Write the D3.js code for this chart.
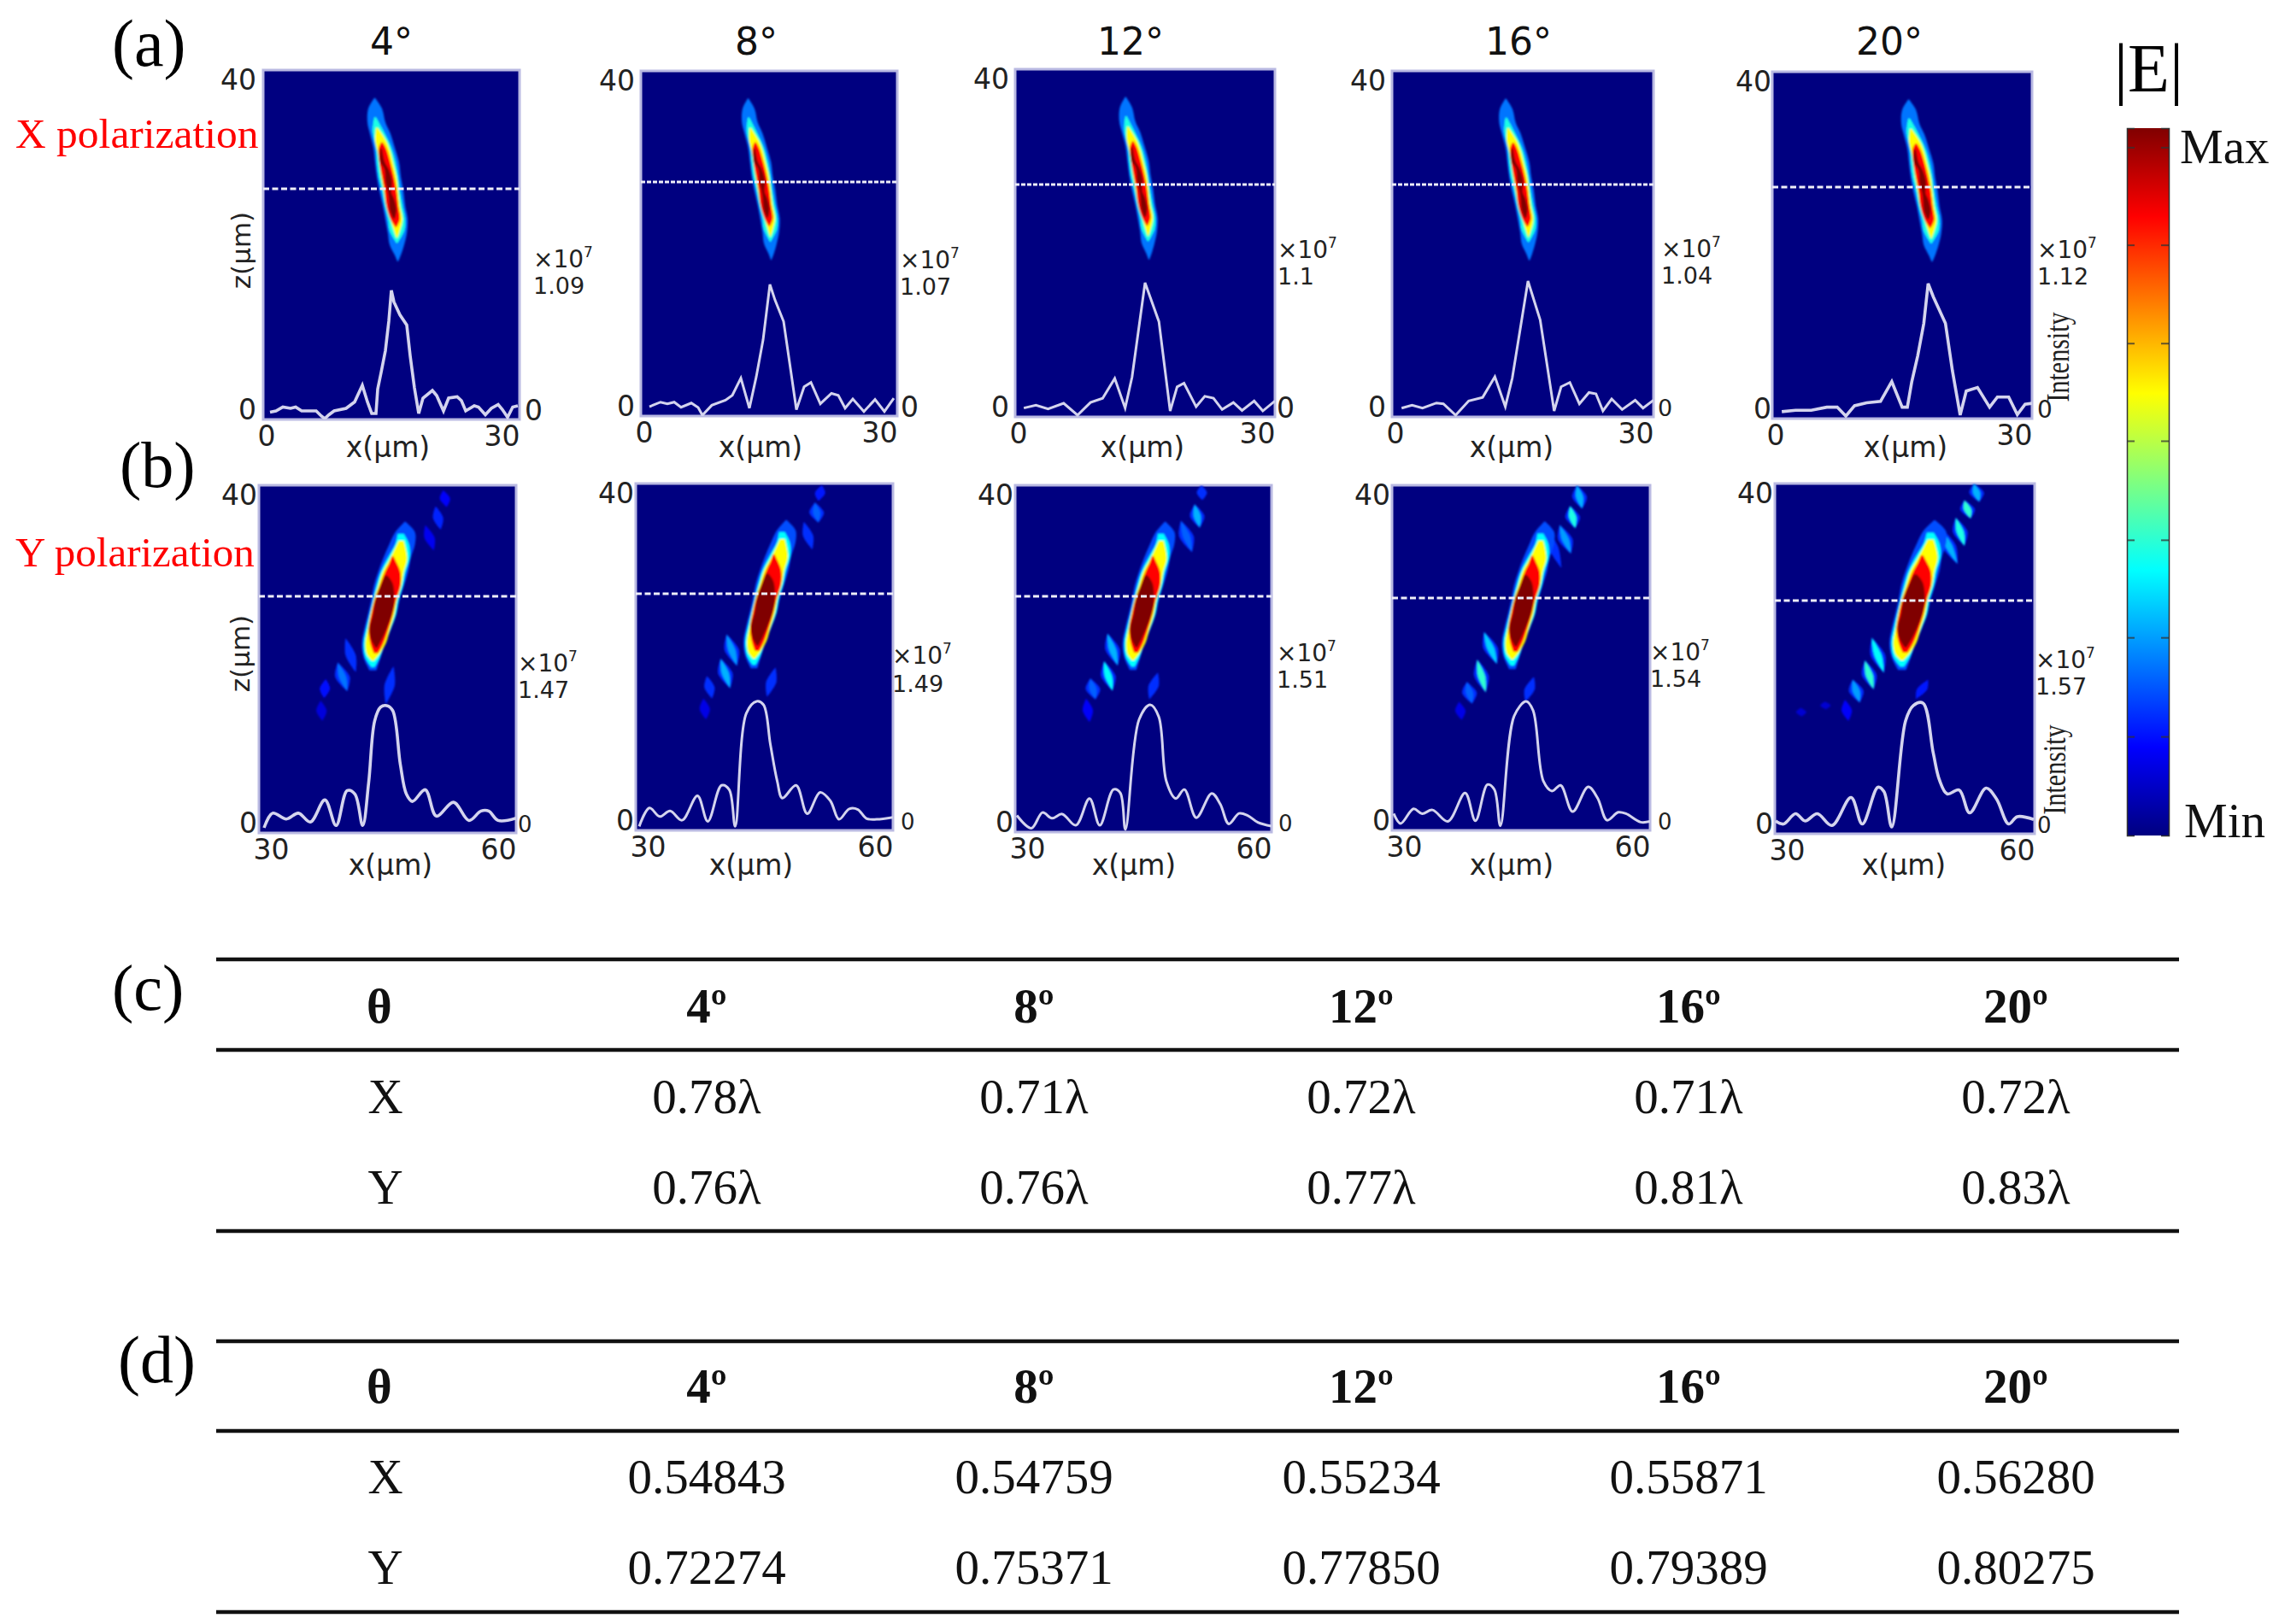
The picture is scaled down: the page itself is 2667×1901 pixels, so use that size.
<!DOCTYPE html>
<html>
<head>
<meta charset="utf-8">
<script src="https://cdn.jsdelivr.net/npm/d3@7"></script>
<style>
  body { margin: 0; background: #fff; }
  svg { display: block; }
  .serif { font-family: "Liberation Serif", serif; }
  .sans { font-family: "DejaVu Sans", sans-serif; }
</style>
</head>
<body>
<div id="chart"></div>
<script>
// angles and peak labels
const angles = ["4°", "8°", "12°", "16°", "20°"];
const peaksX = ["1.09", "1.07", "1.1", "1.04", "1.12"];
const peaksY = ["1.47", "1.49", "1.51", "1.54", "1.57"];

// intensity profiles along the dashed line: [x in um, fraction of peak]
const profileA1 = [[0.8,.05],[1.5,.06],[2.3,.09],[3.2,.08],[3.8,.09],[4.5,.06],[5.3,.06],[6.2,.06],[6.8,.02],[7.2,0],[7.7,.03],[8.3,.06],[9.7,.08],[10.7,.13],[11.6,.26],[12.2,.13],[12.7,.04],[13.2,.04],[13.4,.23],[13.8,.36],[14.3,.53],[14.7,.76],[15,1],[15.3,.91],[16,.81],[16.8,.73],[17.2,.49],[17.7,.24],[18.2,.04],[18.7,.16],[19.8,.22],[20.3,.18],[21.1,.06],[21.7,.16],[22.7,.17],[23.2,.14],[23.7,.06],[24.7,.1],[25.2,.09],[26,.03],[26.7,.08],[27.5,.11],[28,.07],[28.6,.01],[29.2,.09],[29.8,.1]];
const profileA2 = [[1,.065],[2.3,.1],[3.1,.087],[3.9,.1],[4.7,.061],[5.9,.093],[6.7,.059],[7.2,0],[8.3,.076],[9.9,.115],[10.7,.152],[11.7,.283],[12.7,.054],[13.5,.293],[14.3,.576],[15.1,1],[15.7,.88],[16.7,.717],[17.5,.358],[18.2,.043],[19.1,.217],[19.9,.25],[21,.087],[22.3,.167],[23.1,.152],[23.9,.054],[24.8,.124],[26.1,.028],[27.4,.12],[28.5,.028],[29.6,.13]];
const profileA3 = [[1,.054],[2.4,.075],[3.8,.047],[5.6,.09],[7.2,0],[8.7,.096],[10.1,.128],[11.5,.278],[12.7,.054],[13.5,.289],[15,1],[16.6,.707],[17.9,.032],[18.7,.214],[19.5,.242],[20.9,.064],[21.9,.143],[22.9,.128],[23.9,.043],[25.2,.096],[26.2,.036],[27.6,.107],[28.6,.032],[30,.107]];
const profileA4 = [[1.1,.053],[2.3,.074],[3.5,.053],[5.1,.091],[5.9,.085],[7.3,0],[8.8,.106],[10.4,.133],[11.8,.286],[13,.064],[13.8,.277],[15.6,1],[17,.71],[18.6,.032],[19.4,.212],[20.4,.244],[21.5,.085],[22.6,.169],[23.4,.159],[24.2,.032],[25.2,.121],[26.4,.042],[27.9,.112],[28.8,.053],[30,.112]];
const profileA5 = [[1.1,.033],[2.7,.044],[4.5,.044],[6.3,.067],[7.5,.067],[8.5,0],[9.5,.078],[10.9,.1],[12.5,.111],[13.8,.26],[15,.067],[15.6,.067],[16.1,.256],[16.8,.456],[17.5,.7],[18,1],[18.6,.9],[20,.7],[20.8,.344],[21.7,.007],[22.4,.189],[23.7,.216],[25.1,.067],[26,.144],[27.3,.144],[28.3,.011],[29.2,.089],[30,.096]];
const profileB1 = [[.6,0],[1.6,.12],[3.2,.072],[4.6,.12],[6,.048],[7.7,.228],[9,.019],[10.3,.305],[11.2,.276],[12.1,.019],[12.8,.37],[13.5,.875],[14.2,.988],[14.9,1],[15.6,.96],[16.5,.516],[17.2,.276],[17.9,.216],[19.4,.312],[20.7,.096],[22.7,.209],[24.5,.06],[25.9,.137],[26.8,.137],[27.9,.06],[30,.079]];
const profileB2 = [[.4,.011],[1.6,.157],[2.8,.089],[4,.134],[5.4,.06],[7.2,.253],[8.4,.051],[10,.336],[10.9,.302],[11.6,.011],[12.9,.906],[14.1,1],[14.9,.973],[15.7,.66],[16.5,.369],[17.1,.235],[18.7,.336],[20,.112],[21.5,.28],[22.7,.213],[23.7,.067],[24.9,.15],[25.9,.145],[26.9,.074],[28.1,.067],[30,.083]];
const profileB3 = [[.2,.113],[1.9,.011],[3.2,.136],[4.3,.09],[5.5,.124],[7.1,.034],[8.7,.249],[9.9,.034],[11.5,.321],[12.3,.294],[12.9,0],[14.5,.882],[15.8,1],[16.8,.905],[17.7,.385],[18.8,.249],[19.8,.321],[21.2,.095],[23,.29],[24,.204],[25,.045],[26.2,.129],[27.2,.113],[28.4,.057],[30,.027]];
const profileB4 = [[.2,.112],[1,.034],[2.5,.15],[3.5,.112],[4.7,.141],[6.5,.051],[8.5,.275],[9.7,.056],[11.1,.342],[11.9,.302],[12.6,.016],[14.2,.884],[15.6,1],[16.4,.928],[17.6,.369],[18.6,.291],[19.6,.336],[21,.128],[22.8,.324],[23.9,.235],[25,.06],[26.3,.123],[27.2,.112],[28.9,.045],[30,.051]];
const profileB5 = [[.1,.048],[1,.024],[2.4,.107],[3.5,.048],[4.9,.107],[6.6,.012],[8.8,.238],[10.1,.024],[11.9,.321],[12.6,.286],[13.5,0],[15.1,.857],[16,.98],[17.1,1],[18.3,.595],[19,.381],[19.9,.267],[21.3,.298],[22.5,.114],[24.4,.314],[25.6,.226],[27,.024],[28,.083],[29.9,.06]];

// focal spot outlines at jet levels: [z, x left, x right]
const beamXLevels = [.24, .4, .625, .875, 1];
const beamX = [
  [[36.8,13,13.1],[35.6,12.3,13.9],[34,12.2,14.3],[32.7,12.5,14.9],[31.1,12.9,15.4],[29.4,13.1,15.9],[27.8,13.3,16.1],[26.2,13.6,16.4],[24.5,14,16.6],[22.9,14.3,16.9],[21.3,14.6,16.8],[20,14.8,16.5],[18.8,15.4,16.1],[18.1,15.7,15.8]],
  [[34.6,13,13.2],[33,12.8,14.1],[31.1,13.2,15],[29.4,13.3,15.5],[27.8,13.5,15.8],[26.2,13.9,16],[24.5,14.2,16.3],[22.9,14.6,16.6],[21.6,14.8,16.5],[20.2,15.6,15.7]],
  [[33.4,13.2,13.4],[31.9,13.1,14.4],[30.6,13.4,14.9],[29.4,13.6,15.2],[27.8,13.8,15.6],[26.2,14.1,15.8],[24.5,14.4,16],[22.9,14.9,16.3],[21.6,15.3,16],[20.8,15.6,15.7]],
  [[31.7,13.8,14],[31,13.5,14.4],[29.4,13.6,14.9],[27.8,13.9,15.3],[26.2,14.2,15.6],[24.5,14.4,15.8],[22.9,14.9,16],[22,15.5,15.6]],
  [[31,13.7,13.9],[29.5,13.7,14.2],[28.6,14.2,14.7],[27.2,14.3,15.1],[26,14.6,15],[25.3,14.7,15.3],[24,14.8,15.6],[23,15.2,15.4]]
];
const beamYLevels = [.2, .375, .625, .875, 1];
const beamY = [
  [[35.8,17,17.1],[34.6,15.9,18.2],[33.2,15.2,18.2],[31.6,14.5,17.7],[30,13.9,17.4],[28.4,13.4,16.9],[26.8,13.1,16.4],[25.1,12.7,16],[23.5,12.3,15.4],[21.8,12,14.7],[20.2,12.2,14.2],[18.7,12.9,13.7]],
  [[34.4,16.2,16.9],[33.2,15.9,17.5],[31.6,15,17.6],[30,14.2,17.1],[28.4,13.7,16.8],[26.8,13.3,16.3],[25.1,12.9,16],[23.5,12.5,15.4],[21.8,12.2,14.7],[20.2,12.4,14.1],[19.1,13.1,13.5]],
  [[33.6,16.3,16.9],[31.6,15.3,17.3],[30,14.4,16.9],[28.4,13.9,16.6],[26.8,13.4,16.1],[25.1,13,15.8],[23.5,12.7,15.3],[21.8,12.4,14.8],[20.5,12.6,14],[19.8,13.2,13.4]],
  [[31.8,15.5,15.7],[31,15.2,16.1],[30,14.7,16.5],[28.4,14.1,16.5],[26.8,13.5,16],[25.1,13.1,15.6],[23.5,12.8,15.1],[21.8,13,14.5],[20.7,13.4,13.9]],
  [[29.6,14.7,15],[28.7,14.3,15.6],[26.8,13.6,15.8],[25.1,13.3,15.5],[23.5,12.9,14.9],[22.2,13.1,14.3],[21.3,13.6,13.8]]
];

// side lobes in the Y row: [x0, z0, x1, z1, jet level]
const lobesB1 = [[21.5,39.4,21.9,37.5,.12],[20.6,37.6,21.2,34.9,.16],[19.4,35.4,20.4,32.5,.11],[10.1,22.4,11.3,18.5,.2],[9.2,19.6,10.3,16.3,.24],[7.8,17.7,7.6,15.5,.14],[7.2,15.2,7.4,12.9,.09],[15.7,19.2,14.8,14.8,.2]];
const lobesB2 = [[21.7,39.8,21.3,38,.15],[20.9,37.8,21.3,35.5,.22],[19.6,35.6,20.6,32.4,.18],[10.6,22.6,11.8,19,.28],[9.9,19.8,11,16.4,.3],[8.3,17.8,8.9,15.2,.2],[7.9,15.2,8.2,12.8,.1],[16.3,18.8,15.3,15.4,.18]];
const lobesB3 = [[21.8,40,21.9,38.3,.2],[21,37.8,21.6,35.1,.3],[19.4,35.9,20.7,32.3,.22],[10.8,22.9,12,19.2,.3],[10.4,19.7,11.4,16.3,.38],[8.8,17.7,9.4,15.3,.22],[8.3,15.4,8.7,12.7,.12],[16.7,18.4,15.7,15.3,.18]];
const lobesB4 = [[21.5,40,22.1,37.3,.3],[20.7,37.6,21.3,35,.4],[19.5,35.4,20.8,32.1,.28],[17.7,35.4,19.7,30.4,.2],[10.7,23,12.2,19.3,.33],[9.9,19.8,10.9,16,.42],[8.7,17.2,9.3,14.7,.22],[7.8,14.9,8.1,12.8,.1],[16.5,17.8,15.5,14.9,.18]];
const lobesB5 = [[23,40,23.6,37.9,.3],[21.9,38.1,22.6,36,.42],[20.9,36.1,21.9,32.9,.4],[19,35.1,21.1,30.8,.3],[11.2,22.4,12.6,18.4,.38],[10.4,19.8,11.4,16.5,.42],[9,17.6,9.8,15,.28],[8.1,15.3,8.5,12.9,.12],[17.7,17.6,16.3,15.4,.15],[3,14.4,3.1,13.4,.08],[5.8,15.1,5.9,14.2,.08]];

// tables
const tableHead = ["θ", "4º", "8º", "12º", "16º", "20º"];
const fwhmX = ["X", "0.78λ", "0.71λ", "0.72λ", "0.71λ", "0.72λ"];
const fwhmY = ["Y", "0.76λ", "0.76λ", "0.77λ", "0.81λ", "0.83λ"];
const effX = ["X", "0.54843", "0.54759", "0.55234", "0.55871", "0.56280"];
const effY = ["Y", "0.72274", "0.75371", "0.77850", "0.79389", "0.80275"];

// colour bar
const jetStops = [0, .125, .375, .625, .875, 1];
const jetColors = ["#000080", "#0000ff", "#00ffff", "#ffff00", "#ff0000", "#800000"];
const barTicks = [.14, .28, .418, .558, .696, .835, .973];

const jet = d3.scaleLinear().domain(jetStops).range(jetColors);

// page layout, one entry per panel
const panels = [
  {row:"a", i:0, l:308, r:608, t:82, b:491, dash:221, dashGap:[7,3.5], lineTop:340, lineBase:490, shift:0, w:1, profile:profileA1, titleX:458, labelX:454, peakX:624, y10:313, yPeak:344, tickDx:-8, zeroDx:6, zeroSize:33},
  {row:"a", i:1, l:750, r:1050, t:83, b:487, dash:213, dashGap:[5,2], lineTop:333, lineBase:486, shift:-.5, w:.88, profile:profileA2, titleX:885, labelX:890, peakX:1053, y10:314, yPeak:345, tickDx:-7, zeroDx:4, zeroSize:33},
  {row:"a", i:2, l:1188, r:1492, t:81, b:488, dash:216, dashGap:[5,2], lineTop:331, lineBase:486, shift:-.3, w:.88, profile:profileA3, titleX:1323, labelX:1337, peakX:1495, y10:302, yPeak:333, tickDx:-7, zeroDx:2, zeroSize:33},
  {row:"a", i:3, l:1629, r:1935, t:83, b:488, dash:216, dashGap:[5,2], lineTop:329, lineBase:486, shift:0, w:.9, profile:profileA4, titleX:1777, labelX:1769, peakX:1944, y10:301, yPeak:332, tickDx:-7, zeroDx:5, zeroSize:27},
  {row:"a", i:4, l:2074, r:2378, t:84, b:490, dash:219, dashGap:[7,3.5], lineTop:332, lineBase:487, shift:2.7, w:1, profile:profileA5, titleX:2211, labelX:2230, peakX:2384, y10:302, yPeak:333, tickDx:-1, zeroDx:6, zeroSize:28},
  {row:"b", i:0, l:303, r:604, t:568, b:975, dash:698, dashGap:[7,3.5], lineTop:826, lineBase:969, shift:0, w:1, profile:profileB1, labelX:457, peakX:606, y10:786, yPeak:817, tickDx:-2, zeroDx:2, zeroSize:26, lobes:lobesB1},
  {row:"b", i:1, l:744, r:1045, t:566, b:972, dash:695, dashGap:[7,3.5], lineTop:821, lineBase:969, shift:.5, w:.95, profile:profileB2, labelX:879, peakX:1044, y10:777, yPeak:810, tickDx:-2, zeroDx:9, zeroSize:26, lobes:lobesB2},
  {row:"b", i:2, l:1188, r:1488, t:568, b:974, dash:698, dashGap:[7,3.5], lineTop:825, lineBase:971, shift:.5, w:.95, profile:profileB3, labelX:1327, peakX:1494, y10:774, yPeak:805, tickDx:-2, zeroDx:8, zeroSize:26, lobes:lobesB3},
  {row:"b", i:3, l:1629, r:1931, t:568, b:972, dash:700, dashGap:[7,3.5], lineTop:821, lineBase:969, shift:.7, w:.95, profile:profileB4, labelX:1769, peakX:1931, y10:773, yPeak:804, tickDx:-2, zeroDx:9, zeroSize:26, lobes:lobesB4},
  {row:"b", i:4, l:2077, r:2381, t:566, b:976, dash:703, dashGap:[7,3.5], lineTop:823, lineBase:968, shift:1.4, w:1.12, profile:profileB5, labelX:2228, peakX:2382, y10:782, yPeak:813, tickDx:-2, zeroDx:3, zeroSize:26, lobes:lobesB5}
];

const svg = d3.select("#chart").append("svg")
  .attr("width", 2667)
  .attr("height", 1901);

const defs = svg.append("defs");
defs.append("filter").attr("id", "soft")
  .attr("x", "-20%").attr("y", "-20%").attr("width", "140%").attr("height", "140%")
  .append("feGaussianBlur").attr("stdDeviation", 1.25);

function label(x, y, str, size, cls, anchor, fill, weight) {
  return svg.append("text")
    .attr("class", cls)
    .attr("x", x)
    .attr("y", y)
    .attr("font-size", size)
    .attr("text-anchor", anchor || "start")
    .attr("fill", fill || "#1a1a1a")
    .attr("font-weight", weight || "normal")
    .text(str);
}

panels.forEach(function(p, n) {
  const xStart = p.row == "a" ? 0 : 30;
  const xAxisScale = d3.scaleLinear().domain([xStart, xStart + 30]).range([p.l, p.r]);
  const xPlot = d3.scaleLinear().domain([0, 30]).range([p.l, p.r]);
  const z = d3.scaleLinear().domain([0, 40]).range([p.b, p.t]);
  const intensity = d3.scaleLinear().domain([0, 1]).range([p.lineBase, p.lineTop]);

  defs.append("clipPath").attr("id", "clip" + n)
    .append("rect")
    .attr("x", p.l).attr("y", p.t)
    .attr("width", p.r - p.l).attr("height", p.b - p.t);

  // background
  svg.append("rect")
    .attr("x", p.l).attr("y", p.t)
    .attr("width", p.r - p.l).attr("height", p.b - p.t)
    .attr("fill", "#000080")
    .attr("stroke", "#b9b9e2")
    .attr("stroke-width", 3);

  const field = svg.append("g").attr("clip-path", "url(#clip" + n + ")")
    .append("g").attr("filter", "url(#soft)");

  const lens = d3.area()
    .x0(d => xPlot(d[1]))
    .x1(d => xPlot(d[2]))
    .y(d => z(d[0]))
    .curve(d3.curveCatmullRom);

  // side lobes, tapered at both ends
  (p.lobes || []).forEach(function(d) {
    const xm = (d[0] + d[2]) / 2;
    const zm = (d[1] + d[3]) / 2;
    const shape = h => [[d[1], d[0], d[0]], [zm, xm - h, xm + h], [d[3], d[2], d[2]]];
    field.append("path")
      .attr("d", lens(shape(d[4] > .2 ? .85 : .6)))
      .attr("fill", jet(Math.min(d[4], .17)));
    if (d[4] > .2) {
      field.append("path")
        .attr("d", lens(shape(.42)))
        .attr("fill", jet(d[4]));
    }
  });

  // focal spot
  const levels = p.row == "a" ? beamXLevels : beamYLevels;
  const rows = p.row == "a" ? beamX : beamY;
  rows.forEach(function(outline, k) {
    const mid = d => (d[1] + d[2]) / 2;
    const area = d3.area()
      .x0(d => xPlot(mid(d) + (d[1] - mid(d)) * p.w + p.shift))
      .x1(d => xPlot(mid(d) + (d[2] - mid(d)) * p.w + p.shift))
      .y(d => z(d[0]))
      .curve(d3.curveCatmullRom);
    field.append("path")
      .attr("d", area(outline))
      .attr("fill", jet(levels[k]));
  });

  // dashed cut line
  svg.append("line")
    .attr("x1", p.l).attr("x2", p.r)
    .attr("y1", p.dash).attr("y2", p.dash)
    .attr("stroke", "#eeeef8")
    .attr("stroke-width", 3)
    .attr("stroke-dasharray", p.dashGap.join(" "));

  // intensity profile
  const line = d3.line()
    .x(d => xPlot(d[0]))
    .y(d => intensity(d[1]))
    .curve(p.row == "a" ? d3.curveLinear : d3.curveCatmullRom);
  svg.append("path")
    .datum(p.profile)
    .attr("clip-path", "url(#clip" + n + ")")
    .attr("d", line)
    .attr("fill", "none")
    .attr("stroke", "#d4d4ee")
    .attr("stroke-width", p.i == 0 || p.i == 4 ? 3.6 : 3);

  // axes
  const bottom = svg.append("g")
    .attr("transform", `translate(0,${p.b})`)
    .attr("class", "sans")
    .call(d3.axisBottom(xAxisScale).tickValues([xStart, xStart + 30]).tickSize(0));
  bottom.select(".domain").remove();
  bottom.selectAll("text")
    .attr("font-size", 33)
    .attr("fill", "#222")
    .attr("y", 8)
    .attr("text-anchor", (d, i) => i == 0 ? "start" : "end")
    .attr("dx", (d, i) => i == 0 ? -7 : 0);

  const left = svg.append("g")
    .attr("transform", `translate(${p.l + p.tickDx},0)`)
    .attr("class", "sans")
    .call(d3.axisLeft(z).tickValues([0, 40]).tickSize(0).tickPadding(0));
  left.select(".domain").remove();
  left.selectAll("text")
    .attr("font-size", 33)
    .attr("fill", "#222")
    .attr("transform", d => `translate(0,${d == 0 ? -11 : 12})`);

  const right = svg.append("g")
    .attr("transform", `translate(${p.r + p.zeroDx},0)`)
    .attr("class", "sans")
    .call(d3.axisRight(z).tickValues([0]).tickSize(0).tickPadding(0));
  right.select(".domain").remove();
  right.selectAll("text")
    .attr("font-size", p.zeroSize)
    .attr("fill", "#222")
    .attr("transform", "translate(0,-10)");

  // panel texts
  const axisY = p.row == "a" ? 535 : 1024;
  label(p.labelX, axisY, "x(µm)", 33, "sans", "middle", "#222");
  if (p.row == "a") {
    label(p.titleX, 64, angles[p.i], 44, "sans", "middle", "#111");
  }
  const peak = p.row == "a" ? peaksX[p.i] : peaksY[p.i];
  const times = label(p.peakX, p.y10, "×10", 28, "sans", "start", "#222");
  times.append("tspan").attr("dy", -12).attr("font-size", 17).text("7");
  label(p.peakX, p.yPeak, peak, 27, "sans", "start", "#222");
});

// rotated labels
function rotated(x, y, str, size, cls, stretch) {
  svg.append("text")
    .attr("class", cls)
    .attr("transform", `translate(${x},${y}) rotate(-90) scale(1,${stretch || 1})`)
    .attr("font-size", size)
    .attr("text-anchor", "middle")
    .attr("fill", "#222")
    .text(str);
}
rotated(293, 293, "z(µm)", 31, "sans");
rotated(292, 765, "z(µm)", 31, "sans");
rotated(2421, 418, "Intensity", 30, "serif", 1.25);
rotated(2417, 901, "Intensity", 30, "serif", 1.25);

// panel letters and row names
label(131, 77, "(a)", 78, "serif", "start", "#000");
label(140, 570, "(b)", 76, "serif", "start", "#000");
label(131, 1182, "(c)", 76, "serif", "start", "#000");
label(138, 1618, "(d)", 78, "serif", "start", "#000");
label(18, 173, "X polarization", 49.5, "serif", "start", "#ff0000");
label(18, 663, "Y polarization", 49, "serif", "start", "#ff0000");

// colour bar
const barScale = d3.scaleLinear().domain([0, 1]).range([978, 150]);
const gradient = defs.append("linearGradient").attr("id", "jetBar")
  .attr("x1", 0).attr("x2", 0).attr("y1", 1).attr("y2", 0);
gradient.selectAll("stop").data(jetStops).join("stop")
  .attr("offset", d => d)
  .attr("stop-color", d => jet(d));
svg.append("rect")
  .attr("x", 2489).attr("y", barScale(1))
  .attr("width", 49).attr("height", barScale(0) - barScale(1))
  .attr("fill", "url(#jetBar)");
const barLeft = svg.append("g").attr("transform", "translate(2489,0)")
  .call(d3.axisLeft(barScale).tickValues(barTicks).tickSize(-9).tickFormat(""));
const barRight = svg.append("g").attr("transform", "translate(2538,0)")
  .call(d3.axisRight(barScale).tickValues(barTicks).tickSize(-9).tickFormat(""));
[barLeft, barRight].forEach(function(g) {
  g.select(".domain").attr("stroke", "#333").attr("stroke-width", 1.5);
  g.selectAll("line").attr("stroke", "#333").attr("stroke-width", 2).attr("opacity", .75);
});
label(2474, 107, "|E|", 80, "serif", "start", "#000");
label(2551, 191, "Max", 57, "serif", "start", "#111");
label(2556, 980, "Min", 57, "serif", "start", "#111");

// tables
const columns = d3.scalePoint().domain(d3.range(6)).range([828 - 384, 2359]);
function tableRow(values, y, weight) {
  svg.append("g").selectAll("text").data(values).join("text")
    .attr("class", "serif")
    .attr("x", (d, i) => i == 0 ? columns(0) + (weight ? 0 : 7) : columns(i))
    .attr("y", y)
    .attr("font-size", 57)
    .attr("font-weight", weight || "normal")
    .attr("text-anchor", "middle")
    .attr("fill", "#111")
    .text(d => d);
}
function rule(y) {
  svg.append("line")
    .attr("x1", 253).attr("x2", 2550)
    .attr("y1", y).attr("y2", y)
    .attr("stroke", "#111")
    .attr("stroke-width", 4.5);
}
[1123, 1229, 1441, 1570, 1675, 1887].forEach(rule);
tableRow(tableHead, 1197, "bold");
tableRow(fwhmX, 1303);
tableRow(fwhmY, 1409);
tableRow(tableHead, 1642, "bold");
tableRow(effX, 1748);
tableRow(effY, 1854);
</script>
</body>
</html>
